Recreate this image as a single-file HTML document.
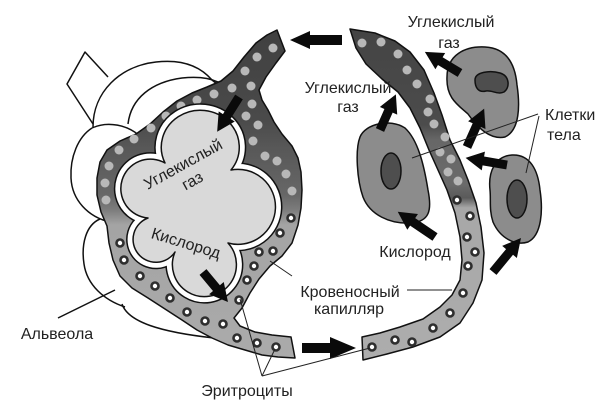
<!DOCTYPE html>
<html><head><meta charset="utf-8"><style>html,body{margin:0;padding:0;background:#fff;}svg{display:block}</style></head>
<body>
<svg width="600" height="410" viewBox="0 0 600 410" xmlns="http://www.w3.org/2000/svg">
<defs>
<linearGradient id="g1" gradientUnits="userSpaceOnUse" x1="0" y1="30" x2="0" y2="360">
<stop offset="0" stop-color="#404040"/><stop offset="0.27" stop-color="#4a4a4a"/><stop offset="0.36" stop-color="#585858"/><stop offset="0.5" stop-color="#676767"/><stop offset="0.545" stop-color="#7c7c7c"/><stop offset="0.59" stop-color="#a4a4a4"/><stop offset="1" stop-color="#ababab"/>
</linearGradient>
<linearGradient id="g2" gradientUnits="userSpaceOnUse" x1="0" y1="29" x2="0" y2="360">
<stop offset="0" stop-color="#444"/><stop offset="0.29" stop-color="#4c4c4c"/><stop offset="0.335" stop-color="#676767"/><stop offset="0.47" stop-color="#6a6a6a"/><stop offset="0.51" stop-color="#5a5a5a"/><stop offset="0.54" stop-color="#a7a7a7"/><stop offset="1" stop-color="#adadad"/>
</linearGradient>
</defs>

<!-- alveolus white lobes (outlines only) -->
<g fill="none" stroke="#111" stroke-width="1.5" stroke-linejoin="round">
<polyline points="108,77 85,52 67,84 93,124"/>
<path d="M93,127 C93,92 120,66 156,62 C182,59 200,66 212,80 L222,88"/>
<path d="M128,124 C131,98 152,82 182,78 C200,76 215,78 228,88"/>
<path d="M92,128 C107,121 128,124 142,138"/>
<path d="M92,128 C78,137 70,157 71,178 C72,200 88,217 110,222"/>
<path d="M100,219 C86,225 81,244 84,264 C87,285 104,300 125,307"/>
<path d="M122,304 C128,322 160,332 214,338"/>
<line x1="58" y1="318" x2="115" y2="290"/>
</g>

<!-- left capillary band -->
<path d="M277,30 L285,51 L276,63 L266,77 L259,90 L262,100 L268,110 L274,122 L282,134 L292,146 L298,158 L301,172 L302,190 L301,208 L298,225 L292,243 L282,256 L270,266 L259,279 L250,293 L242,308 L234,318 L240,326 L255,332 L272,335 L291,337 L295,358 L278,357 L262,355 L245,350 L228,345 L212,338 L197,330 L182,320 L165,309 L148,298 L132,288 L120,276 L113,260 L109,243 L107,226 L101,212 L97,195 L97,178 L100,162 L107,150 L120,141 L136,134 L150,124 L163,112 L177,101 L192,93 L207,87 L221,81 L233,71 L244,57 L256,43 L267,35 Z" fill="url(#g1)" stroke="#111" stroke-width="1.5" stroke-linejoin="round"/>

<g fill="#b8b8b8">
<circle cx="273" cy="48" r="4.5"/><circle cx="257" cy="57" r="4.5"/><circle cx="245" cy="71" r="4.5"/><circle cx="251" cy="86" r="4.5"/><circle cx="232" cy="88" r="4.5"/><circle cx="214" cy="94" r="4.5"/><circle cx="197" cy="100" r="4.5"/><circle cx="181" cy="106" r="4.5"/><circle cx="166" cy="116" r="4.5"/><circle cx="151" cy="128" r="4.5"/><circle cx="134" cy="139" r="4.5"/><circle cx="119" cy="150" r="4.5"/><circle cx="109" cy="166" r="4.5"/><circle cx="105" cy="183" r="4.5"/><circle cx="106" cy="200" r="4.5"/>
<circle cx="252" cy="104" r="4.5"/><circle cx="246" cy="116" r="4.5"/><circle cx="258" cy="125" r="4.5"/><circle cx="253" cy="141" r="4.5"/><circle cx="265" cy="156" r="4.5"/><circle cx="277" cy="161" r="4.5"/><circle cx="286" cy="174" r="4.5"/><circle cx="292" cy="191" r="4.5"/>
</g>
<g fill="#fff" stroke="#2e2e2e" stroke-width="2.6">
<circle cx="120" cy="243" r="3.5"/><circle cx="124" cy="260" r="3.5"/><circle cx="140" cy="276" r="3.5"/><circle cx="155" cy="286" r="3.5"/><circle cx="170" cy="298" r="3.5"/><circle cx="187" cy="312" r="3.5"/><circle cx="205" cy="321" r="3.5"/><circle cx="223" cy="324" r="3.5"/><circle cx="239" cy="300" r="3.5"/><circle cx="247" cy="280" r="3.5"/><circle cx="254" cy="266" r="3.5"/><circle cx="259" cy="252" r="3.5"/><circle cx="273" cy="251" r="3.5"/><circle cx="280" cy="233" r="3.5"/><circle cx="291" cy="218" r="3.5"/><circle cx="237" cy="338" r="3.5"/><circle cx="257" cy="343" r="3.5"/><circle cx="276" cy="347" r="3.5"/>
</g>

<!-- alveolus interior -->
<path d="M165,163 A39 37 0 1 1 231,170 A37.5 37.5 0 1 1 228,243 A32 32 0 1 1 175,252 A22.85 22.85 0 1 1 148,218 A29.5 29.5 0 1 1 165,163 Z" fill="none" stroke="#111" stroke-width="14" stroke-linejoin="round"/>
<path d="M165,163 A39 37 0 1 1 231,170 A37.5 37.5 0 1 1 228,243 A32 32 0 1 1 175,252 A22.85 22.85 0 1 1 148,218 A29.5 29.5 0 1 1 165,163 Z" fill="none" stroke="#fff" stroke-width="11" stroke-linejoin="round"/>
<path d="M165,163 A39 37 0 1 1 231,170 A37.5 37.5 0 1 1 228,243 A32 32 0 1 1 175,252 A22.85 22.85 0 1 1 148,218 A29.5 29.5 0 1 1 165,163 Z" fill="#d9d9d9" stroke="#111" stroke-width="1.5" stroke-linejoin="round"/>

<!-- right capillary -->
<path d="M350,29 L375,33 L395,41 L410,52 L424,70 L434,93 L442,115 L450,140 L460,160 L468,180 L476,203 L481,227 L484,253 L482,280 L473,303 L460,323 L440,337 L413,347 L387,354 L363,360 L362,337 L380,333 L400,327 L423,319 L440,307 L452,295 L460,280 L462,260 L460,237 L455,213 L447,190 L438,170 L429,150 L420,128 L410,108 L398,92 L382,79 L366,64 L356,48 Z" fill="url(#g2)" stroke="#111" stroke-width="1.5" stroke-linejoin="round"/>
<g fill="#b8b8b8">
<circle cx="362" cy="43" r="4.5"/><circle cx="381" cy="42" r="4.5"/><circle cx="398" cy="54" r="4.5"/><circle cx="407" cy="70" r="4.5"/><circle cx="417" cy="84" r="4.5"/><circle cx="430" cy="99" r="4.5"/><circle cx="428" cy="112" r="4.5"/><circle cx="434" cy="124" r="4.5"/><circle cx="445" cy="137" r="4.5"/><circle cx="440" cy="152" r="4.5"/><circle cx="451" cy="159" r="4.5"/><circle cx="448" cy="172" r="4.5"/><circle cx="458" cy="181" r="4.5"/>
</g>
<g fill="#fff" stroke="#2e2e2e" stroke-width="2.6">
<circle cx="457" cy="200" r="3.5"/><circle cx="470" cy="216" r="3.5"/><circle cx="467" cy="237" r="3.5"/><circle cx="475" cy="252" r="3.5"/><circle cx="468" cy="266" r="3.5"/><circle cx="463" cy="293" r="3.5"/><circle cx="450" cy="313" r="3.5"/><circle cx="433" cy="328" r="3.5"/><circle cx="412" cy="342" r="3.5"/><circle cx="395" cy="340" r="3.5"/><circle cx="372" cy="347" r="3.5"/>
</g>

<!-- cells -->
<g stroke="#111" stroke-width="1.5">
<path d="M360,137 C365,124 390,118 405,128 C418,140 424,165 428,190 C432,210 430,222 410,223 C390,224 370,215 363,197 C357,180 355,150 360,137 Z" fill="#8c8c8c"/>
<ellipse cx="391" cy="171" rx="10" ry="18" fill="#4e4e4e"/>
<path d="M447,77 C447,55 465,46 485,47 C505,48 515,62 517,85 C520,105 520,130 505,137 C490,140 478,128 468,114 C458,105 446,98 447,77 Z" fill="#8c8c8c"/>
<path d="M475,80 C475,72 490,70 500,73 C510,76 510,88 504,92 C498,95 492,90 486,91 C478,93 475,87 475,80 Z" fill="#4e4e4e"/>
<path d="M490,190 C488,172 495,156 512,155 C530,154 538,170 540,190 C543,210 542,235 528,242 C515,246 500,238 493,222 C489,210 491,200 490,190 Z" fill="#8c8c8c"/>
<ellipse cx="517" cy="199" rx="10" ry="19" fill="#4e4e4e"/>
</g>

<!-- arrows -->
<g fill="#0a0a0a">
<polygon points="0,-5 32,-5 32,-9 52,0 32,9 32,5 0,5" transform="translate(342,40) rotate(180)"/>
<polygon points="0,-4.5 23,-4.5 23,-9.5 41,0 23,9.5 23,4.5 0,4.5" transform="translate(239,97) rotate(122.2)"/>
<polygon points="0,-4.5 21,-4.5 21,-9.5 39,0 21,9.5 21,4.5 0,4.5" transform="translate(203,272) rotate(50.2)"/>
<polygon points="0,-5 28,-5 28,-11 54,0 28,11 28,5 0,5" transform="translate(302,348)"/>
<polygon points="0,-4.5 21,-4.5 21,-9.5 39,0 21,9.5 21,4.5 0,4.5" transform="translate(380,130) rotate(-66)"/>
<polygon points="0,-4.5 23,-4.5 23,-9.5 41,0 23,9.5 23,4.5 0,4.5" transform="translate(460,73) rotate(-149)"/>
<polygon points="0,-4.5 24,-4.5 24,-9.5 42,0 24,9.5 24,4.5 0,4.5" transform="translate(467,147) rotate(-65.9)"/>
<polygon points="0,-4.5 24,-4.5 24,-9.5 42,0 24,9.5 24,4.5 0,4.5" transform="translate(507,165) rotate(-170.3)"/>
<polygon points="0,-4.5 27,-4.5 27,-9.5 45,0 27,9.5 27,4.5 0,4.5" transform="translate(435,237) rotate(-145.9)"/>
<polygon points="0,-4.5 26,-4.5 26,-9.5 44,0 26,9.5 26,4.5 0,4.5" transform="translate(493,272) rotate(-50.5)"/>
</g>

<!-- leader lines -->
<g stroke="#222" stroke-width="1" fill="none">
<line x1="407" y1="290" x2="452" y2="290"/>
<line x1="270" y1="261" x2="292" y2="276"/>
<line x1="262" y1="376" x2="240" y2="299"/>
<line x1="262" y1="376" x2="275" y2="349"/>
<line x1="262" y1="376" x2="370" y2="348"/>
<line x1="538" y1="114" x2="412" y2="158"/>
<line x1="539" y1="116" x2="526" y2="173"/>
</g>

<!-- labels -->
<g font-family="'Liberation Sans', sans-serif" font-size="16" fill="#222">
<text x="451" y="27" text-anchor="middle">Углекислый</text>
<text x="449" y="48" text-anchor="middle">газ</text>
<text x="348" y="93" text-anchor="middle">Углекислый</text>
<text x="348" y="112" text-anchor="middle">газ</text>
<text x="545" y="120">Клетки</text>
<text x="547" y="140">тела</text>
<text x="415" y="257" text-anchor="middle">Кислород</text>
<text x="350" y="297" text-anchor="middle">Кровеносный</text>
<text x="349" y="314" text-anchor="middle">капилляр</text>
<text x="57" y="339" text-anchor="middle">Альвеола</text>
<text x="247" y="396" text-anchor="middle">Эритроциты</text>
<g transform="translate(183,164) rotate(-29)">
<text x="0" y="5.5" text-anchor="middle">Углекислый</text>
<text x="0" y="24.5" text-anchor="middle">газ</text>
</g>
<text x="0" y="5.5" text-anchor="middle" transform="translate(186,243) rotate(17)">Кислород</text>
</g>
</svg>
</body></html>
